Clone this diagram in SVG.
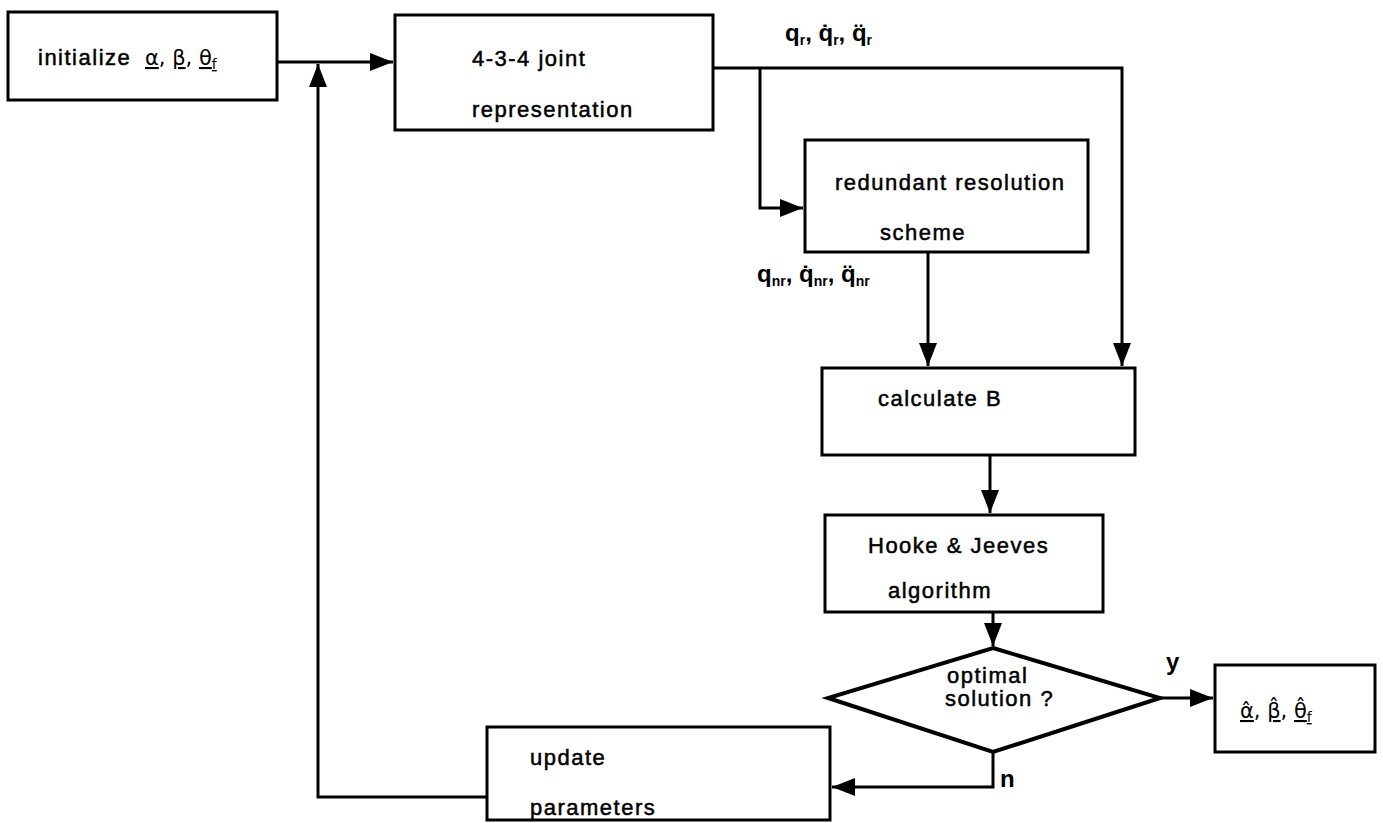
<svg xmlns="http://www.w3.org/2000/svg" width="1383" height="823" viewBox="0 0 1383 823">
<style>
.box{fill:#fff;stroke:#000;stroke-width:3}
.dia{fill:#fff;stroke:#000;stroke-width:4}
.ln{fill:none;stroke:#000;stroke-width:3}
.t{font-family:"Liberation Sans",Arial,sans-serif;font-size:22px;letter-spacing:1.5px;fill:#000;stroke:#000;stroke-width:0.5}
.m{font-family:"DejaVu Sans","Liberation Sans",sans-serif;font-size:21px;fill:#000}
.q{font-family:"Liberation Sans",Arial,sans-serif;font-size:24px;font-weight:bold;fill:#000}
.s{font-size:14px}
.u{text-decoration:underline}
</style>
<defs>
<marker id="ah" markerUnits="userSpaceOnUse" markerWidth="26" markerHeight="22" refX="23" refY="11" orient="auto">
<path d="M0,2 L23,11 L0,20 Z" fill="#000"/>
</marker>
</defs>
<g id="connectors">
<path class="ln" d="M277,62 H393" marker-end="url(#ah)"/>
<path class="ln" d="M713,68 H1122 V366" marker-end="url(#ah)"/>
<path class="ln" d="M760,68 V208 H803" marker-end="url(#ah)"/>
<path class="ln" d="M928,252 V366" marker-end="url(#ah)"/>
<path class="ln" d="M990,455 V513" marker-end="url(#ah)"/>
<path class="ln" d="M993,612 V646" marker-end="url(#ah)"/>
<path class="ln" d="M1160,698 H1213" marker-end="url(#ah)"/>
<path class="ln" d="M993,752 V787 H832" marker-end="url(#ah)"/>
<path class="ln" d="M487,797 H318 V64" marker-end="url(#ah)"/>
</g>
<g id="init">
<rect class="box" x="8" y="12" width="269" height="88"/>
<text class="t" x="38" y="65">initialize</text>
<text class="m" x="145" y="65"><tspan class="u">α</tspan>, <tspan class="u">β</tspan>, <tspan class="u">θ<tspan class="s" dy="4">f</tspan></tspan></text>
</g>
<g id="joint">
<rect class="box" x="395" y="15" width="318" height="115"/>
<text class="t" x="472" y="66">4-3-4 joint</text>
<text class="t" x="472" y="117">representation</text>
</g>
<g id="qr-label">
<text class="q" x="785" y="41">q<tspan class="s" dy="4">r</tspan><tspan dy="-4">, q̇</tspan><tspan class="s" dy="4">r</tspan><tspan dy="-4">, q̈</tspan><tspan class="s" dy="4">r</tspan></text>
</g>
<g id="redundant">
<rect class="box" x="805" y="140" width="283" height="112"/>
<text class="t" x="835" y="190">redundant resolution</text>
<text class="t" x="880" y="240">scheme</text>
</g>
<g id="qnr-label">
<text class="q" x="757" y="282">q<tspan class="s" dy="4">nr</tspan><tspan dy="-4">, q̇</tspan><tspan class="s" dy="4">nr</tspan><tspan dy="-4">, q̈</tspan><tspan class="s" dy="4">nr</tspan></text>
</g>
<g id="calcB">
<rect class="box" x="822" y="368" width="313" height="87"/>
<text class="t" x="878" y="406">calculate B</text>
</g>
<g id="hooke">
<rect class="box" x="825" y="515" width="278" height="97"/>
<text class="t" x="868" y="553">Hooke &amp; Jeeves</text>
<text class="t" x="888" y="598">algorithm</text>
</g>
<g id="decision">
<polygon class="dia" points="993,648 1160,698 993,752 828,698"/>
<text class="t" x="947" y="683">optimal</text>
<text class="t" x="945" y="706">solution ?</text>
<text class="q" x="1166" y="670">y</text>
<text class="q" x="1000" y="787">n</text>
</g>
<g id="result">
<rect class="box" x="1215" y="665" width="160" height="87"/>
<text class="m" x="1240" y="718"><tspan class="u">α̂</tspan>, <tspan class="u">β̂</tspan>, <tspan class="u">θ̂<tspan class="s" dy="4">f</tspan></tspan></text>
</g>
<g id="update">
<rect class="box" x="487" y="727" width="343" height="93"/>
<text class="t" x="530" y="765">update</text>
<text class="t" x="530" y="815">parameters</text>
</g>
</svg>
